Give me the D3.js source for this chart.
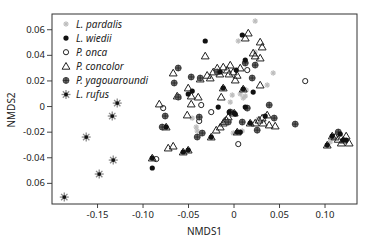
<html>
<head>
  <meta charset="utf-8" />
  <script src="https://cdnjs.cloudflare.com/ajax/libs/d3/7.8.5/d3.min.js"></script>
  <style>
    body { margin: 0; background: #fff; }
    text { font-family: "Noto Sans", "Open Sans", sans-serif; fill: #222; }
    .legend text { font-style: italic; font-size: 10px; }
  </style>
</head>
<body>
  <svg></svg>
  <script>
    // NMDS scores, one array per species: [NMDS1, NMDS2]
    var pardalis = [[0.0238,0.0664],[0.0052,0.0508],[0.0238,0.0422],[0.0436,0.0258],[0.0370,0.0164],
      [-0.0014,0.0086],[0.0074,0.0094],[0.0129,0.0078],[-0.0036,0.0031],[0.0107,0.0063],
      [-0.0454,-0.0094],[-0.0410,-0.0164],[-0.0399,-0.0195],[-0.0003,-0.0211],[0.0096,-0.0195],
      [0.0271,-0.0102],[0.1063,-0.0281],[0.0140,0.0125]]
    var wiedii = [[-0.0311,0.0508],[0.0096,0.0555],[0.0129,0.0359],[-0.0454,0.0117],[-0.0498,0.0094],
      [-0.0168,-0.0008],[0.0216,0.0109],[0.0129,-0.0008],[-0.0893,-0.0484],[0.0030,0.0281],
      [-0.0146,0.0266],[-0.0047,-0.0047],[0.0019,-0.0063],[0.0074,-0.0203],[0.0348,-0.0078],
      [0.1173,-0.0219],[0.1238,-0.0266],
      [-0.0893,-0.0406],[-0.0553,-0.0359],[-0.0498,-0.0344],[-0.0245,-0.0242],[0.1030,-0.0305],
      [-0.0113,0.0141],[0.0107,0.0133],[-0.0740,-0.0164],[0.0008,-0.0055],[0.0183,-0.0133],
      [0.1085,-0.0234],[0.1206,-0.0266],[0.0041,-0.0203]]
    var onca = [[-0.0773,-0.0016],[-0.0355,0.0008],[-0.0245,-0.0047],[-0.0377,-0.0117],[-0.0849,-0.0414],
      [0.0052,-0.0297],[0.0788,0.0195],[0.0151,0.0281]]
    var concolor = [[-0.0311,0.0391],[0.0162,0.0570],[0.0129,0.0531],[0.0293,0.0500],[0.0315,0.0461],
      [0.0216,0.0414],[0.0238,0.0391],[0.0293,0.0375],[0.0293,0.0164],[-0.0663,0.0258],
      [-0.0366,0.0211],[-0.0256,0.0219],[-0.0223,0.0266],[-0.0179,0.0297],[-0.0113,0.0305],
      [-0.0069,0.0281],[-0.0036,0.0320],[-0.0003,0.0266],[0.0074,0.0297],[0.0019,0.0203],
      [-0.0498,0.0141],[-0.0619,0.0078],[-0.0465,0.0078],[-0.0388,0.0070],[-0.0135,0.0070],
      [-0.0816,0.0016],[-0.0465,0.0016],[-0.0509,-0.0070],[-0.0190,-0.0188],[-0.0146,-0.0164],
      [-0.0113,-0.0133],[-0.0080,-0.0109],[-0.0058,-0.0086],[0.0238,-0.0133],[0.0315,-0.0094],
      [0.0370,-0.0070],[0.0326,-0.0133],[0.0392,-0.0148],[0.0458,-0.0156],[-0.0718,-0.0328],
      [-0.0663,-0.0313],[0.1118,-0.0242],[0.1184,-0.0289],[0.1238,-0.0234],[0.1271,-0.0289],
      [-0.0893,-0.0406],[-0.0553,-0.0359],[-0.0498,-0.0344],[-0.0245,-0.0242],[0.1030,-0.0305],
      [-0.0113,0.0141],[0.0107,0.0133],[-0.0740,-0.0164],[0.0008,-0.0055],[0.0183,-0.0133],
      [0.1085,-0.0234],[0.1206,-0.0266],[0.0041,-0.0203],
      [-0.0290,0.0240],[-0.0150,0.0250],[-0.0050,0.0250],[0.0040,0.0240],[-0.0100,-0.0120],
      [0.0280,-0.0110],[0.1150,-0.0260]]
    var yagouaroundi = [[0.0238,0.0320],[0.0205,0.0219],[0.0392,0.0008],[0.0151,-0.0016],[-0.0058,-0.0125],
      [0.0096,-0.0125],[0.0260,-0.0188],[0.0447,-0.0094],[0.0678,-0.0141],[-0.0608,0.0297],
      [-0.0652,0.0180],[-0.0465,0.0227],[-0.0366,0.0219],[-0.0179,0.0266],[0.0129,0.0336],
      [-0.0608,0.0070],[-0.0751,-0.0078],[-0.0344,-0.0211],[-0.0399,-0.0242],[-0.0377,-0.0086],
      [-0.0784,-0.0164],[0.1151,-0.0203],[-0.0036,-0.0047]]
    var rufus = [[-0.1278,0.0023],[-0.1333,-0.0078],[-0.1619,-0.0242],[-0.1322,-0.0422],
      [-0.1476,-0.0531],[-0.1860,-0.0711]]

    var species = ["L. pardalis", "L. wiedii", "P. onca", "P. concolor", "P. yagouaroundi", "L. rufus"]
    var xTicks = [-0.15, -0.10, -0.05, 0, 0.05, 0.10]
    var xTickLabels = ["-0.15", "-0.10", "-0.05", "0", "0.05", "0.10"]
    var yTicks = [0.06, 0.04, 0.02, 0, -0.02, -0.04, -0.06]
    var yTickLabels = ["0.06", "0.04", "0.02", "0", "-0.02", "-0.04", "0.06"]

    var svg = d3.select("svg").attr("width", 367).attr("height", 240)
    var mLeft = 52, mTop = 14, mRight = 357, mBottom = 204

    var xScale = d3.scaleLinear().domain([-0.1995, 0.1357]).range([mLeft, mRight])
    var yScale = d3.scaleLinear().domain([-0.0765, 0.0719]).range([mBottom, mTop])

    // axes
    var xAxis = d3.axisBottom(xScale).tickValues(xTicks).tickSize(4).tickPadding(3)
      .tickFormat((d, i) => xTickLabels[i])
    var yAxis = d3.axisLeft(yScale).tickValues(yTicks).tickSize(5).tickPadding(2)
      .tickFormat((d, i) => yTickLabels[i])
    svg.append("g").attr("transform", "translate(0," + mBottom + ")").call(xAxis)
    svg.append("g").attr("transform", "translate(" + mLeft + ",0)").call(yAxis)
    svg.selectAll(".domain").remove()
    svg.selectAll(".tick line").attr("stroke", "#444")
    svg.selectAll(".tick text").style("font-size", "9.5px").attr("fill", "#222")

    svg.append("rect").attr("x", mLeft).attr("y", mTop)
      .attr("width", mRight - mLeft).attr("height", mBottom - mTop)
      .attr("fill", "none").attr("stroke", "#333").attr("stroke-width", 1)

    svg.append("text").attr("x", (mLeft + mRight) / 2).attr("y", 235)
      .attr("text-anchor", "middle").style("font-size", "10px").text("NMDS1")
    svg.append("text").attr("transform", "translate(15,110) rotate(-90)")
      .attr("text-anchor", "middle").style("font-size", "10px").text("NMDS2")

    // marker drawers
    function drawStar(g, color, len, width) {
      [0, 45, 90, 135].forEach(a => {
        var r = a * Math.PI / 180
        g.append("line")
          .attr("x1", -len * Math.cos(r)).attr("y1", -len * Math.sin(r))
          .attr("x2", len * Math.cos(r)).attr("y2", len * Math.sin(r))
          .attr("stroke", color).attr("stroke-width", width)
      })
    }
    var drawers = {
      "L. pardalis": g => { drawStar(g, "#bdbdbd", 2.7, 1.2); g.append("circle").attr("r", 1.2).attr("fill", "#bdbdbd") },
      "L. wiedii": g => g.append("circle").attr("r", 2.6).attr("fill", "#111"),
      "P. onca": g => g.append("circle").attr("r", 2.6).attr("fill", "#fff").attr("stroke", "#222").attr("stroke-width", 1),
      "P. concolor": g => g.append("path").attr("d", "M0,-3.8L3.9,2.9L-3.9,2.9Z")
        .attr("fill", "none").attr("stroke", "#222").attr("stroke-width", 1),
      "P. yagouaroundi": g => {
        g.append("circle").attr("r", 3).attr("fill", "#6a6a6a").attr("stroke", "#333").attr("stroke-width", 0.8)
        g.append("path").attr("d", "M-3,0H3M0,-3V3").attr("stroke", "#222").attr("stroke-width", 0.8)
      },
      "L. rufus": g => { drawStar(g, "#8a8a8a", 4.5, 1.3); g.append("circle").attr("r", 1.9).attr("fill", "#111") }
    }

    var seriesData = {
      "L. pardalis": pardalis, "L. wiedii": wiedii, "P. onca": onca,
      "P. concolor": concolor, "P. yagouaroundi": yagouaroundi, "L. rufus": rufus
    }
    var drawOrder = ["L. pardalis", "P. onca", "P. concolor", "P. yagouaroundi", "L. wiedii", "L. rufus"]

    var plot = svg.append("g")
    drawOrder.forEach(name => {
      plot.selectAll(null)
        .data(seriesData[name])
        .enter()
        .append("g")
          .attr("transform", d => "translate(" + xScale(d[0]) + "," + yScale(d[1]) + ")")
          .each(function() { drawers[name](d3.select(this)) })
    })

    // legend
    var legend = svg.append("g").attr("class", "legend")
    species.forEach((name, i) => {
      var row = legend.append("g").attr("transform", "translate(66," + (24 + i * 14.1) + ")")
      drawers[name](row.append("g"))
      row.append("text").attr("x", 10).attr("y", 3.5).text(name)
    })
  </script>
</body>
</html>
